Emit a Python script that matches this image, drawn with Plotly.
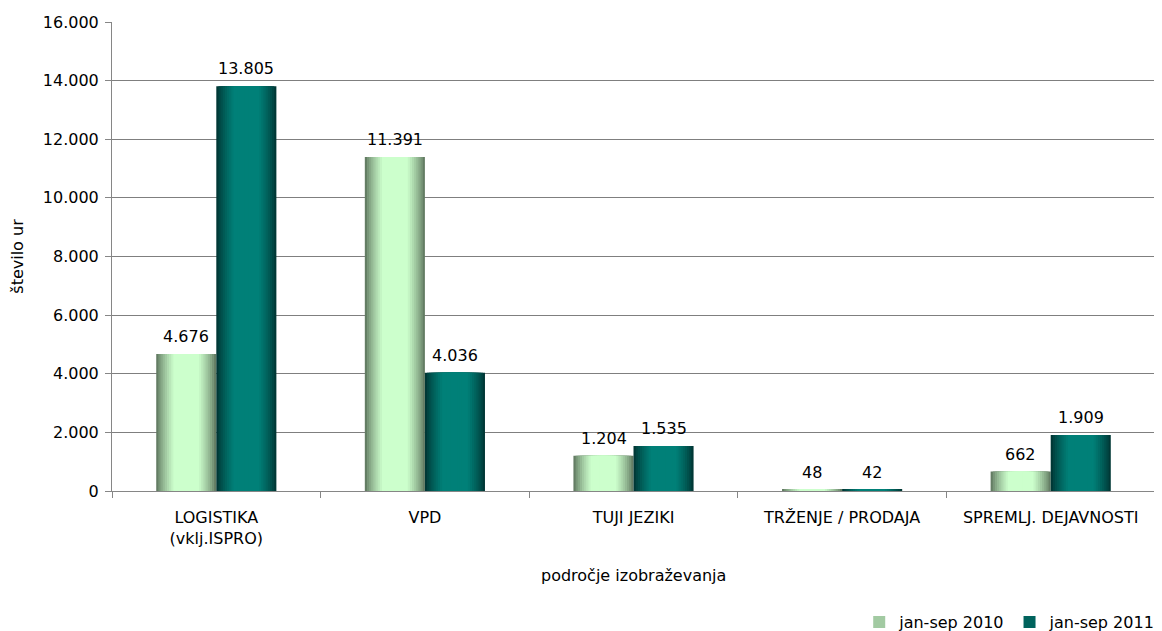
import plotly.graph_objects as go

categories = ["LOGISTIKA<br>(vklj.ISPRO)", "VPD", "TUJI JEZIKI", "TRŽENJE / PRODAJA", "SPREMLJ. DEJAVNOSTI"]
series_names = ["jan-sep 2010", "jan-sep 2011"]
values_2010 = [4676, 11391, 1204, 48, 662]
values_2011 = [13805, 4036, 1535, 42, 1909]
y_ticks = [0, 2000, 4000, 6000, 8000, 10000, 12000, 14000, 16000]

FONT = "DejaVu Sans"
BAR_W = 0.288
N_LAYERS = 14
PAGE_OFF = 8  # default body margin of the html page

styles = [
    dict(edge=(100, 125, 100), center=(204, 255, 204), pos=-BAR_W / 2, shift=-30),
    dict(edge=(0, 56, 54), center=(0, 128, 120), pos=BAR_W / 2, shift=30),
]


def mix(a, b, t):
    return "rgb(%d,%d,%d)" % tuple(round(a[i] + (b[i] - a[i]) * t) for i in range(3))


fig = go.Figure()
annotations = []
for name, vals, st in zip(series_names, [values_2010, values_2011], styles):
    for k in range(N_LAYERS):
        frac = 1 - k / N_LAYERS
        w = BAR_W * frac
        t = min(1.0, (k / (N_LAYERS * 0.55)) ** 0.8)
        color = mix(st["edge"], st["center"], t)
        fig.add_trace(go.Bar(
            x=categories, y=vals, name=name,
            width=[w] * len(categories),
            offset=[st["pos"] - w / 2] * len(categories),
            marker=dict(color=color, line=dict(width=0)),
            showlegend=(k == N_LAYERS // 3),
            legendgroup=name,
            hoverinfo="skip" if k else None,
        ))
    for c, v in zip(categories, vals):
        annotations.append(dict(
            x=c, y=v, xref="x", yref="y", text=f"{v:,}".replace(",", "."),
            showarrow=False, xshift=st["shift"], yanchor="bottom", yshift=6,
            font=dict(family=FONT, size=16, color="#000000"),
        ))

annotations.append(dict(
    x=0.5, y=-0.1812, xref="paper", yref="paper", text="področje izobraževanja",
    showarrow=False, yanchor="middle", xanchor="center",
    font=dict(family=FONT, size=16, color="#000000"),
))

fig.update_layout(
    width=1162 - PAGE_OFF, height=631 - PAGE_OFF,
    barmode="overlay",
    separators=",.",
    paper_bgcolor="white", plot_bgcolor="white",
    margin=dict(l=112 - PAGE_OFF, r=7, t=22 - PAGE_OFF, b=140, autoexpand=False),
    font=dict(family=FONT, size=16, color="#000000"),
    showlegend=True,
    annotations=annotations,
    legend=dict(orientation="h", x=1.005, xanchor="right", y=-0.2793, yanchor="middle",
                font=dict(family=FONT, size=16), itemwidth=30,
                traceorder="normal", bgcolor="rgba(0,0,0,0)"),
    xaxis=dict(
        showline=True, linecolor="#868686", linewidth=1,
        ticks="outside", tickson="boundaries", ticklen=6, tickcolor="#868686",
        tickfont=dict(family=FONT, size=16), ticklabelstandoff=12,
        showgrid=False,
    ),
    yaxis=dict(
        title=dict(text="število ur", font=dict(family=FONT, size=16), standoff=26),
        range=[0, 16000], tickvals=y_ticks, tickformat=",",
        showline=True, linecolor="#868686", linewidth=1,
        ticks="outside", ticklen=6, tickcolor="#868686",
        showgrid=True, gridcolor="#7f7f7f", gridwidth=1,
        tickfont=dict(family=FONT, size=16), ticklabelstandoff=3,
        zeroline=False,
    ),
)

fig.write_html("out.html")
